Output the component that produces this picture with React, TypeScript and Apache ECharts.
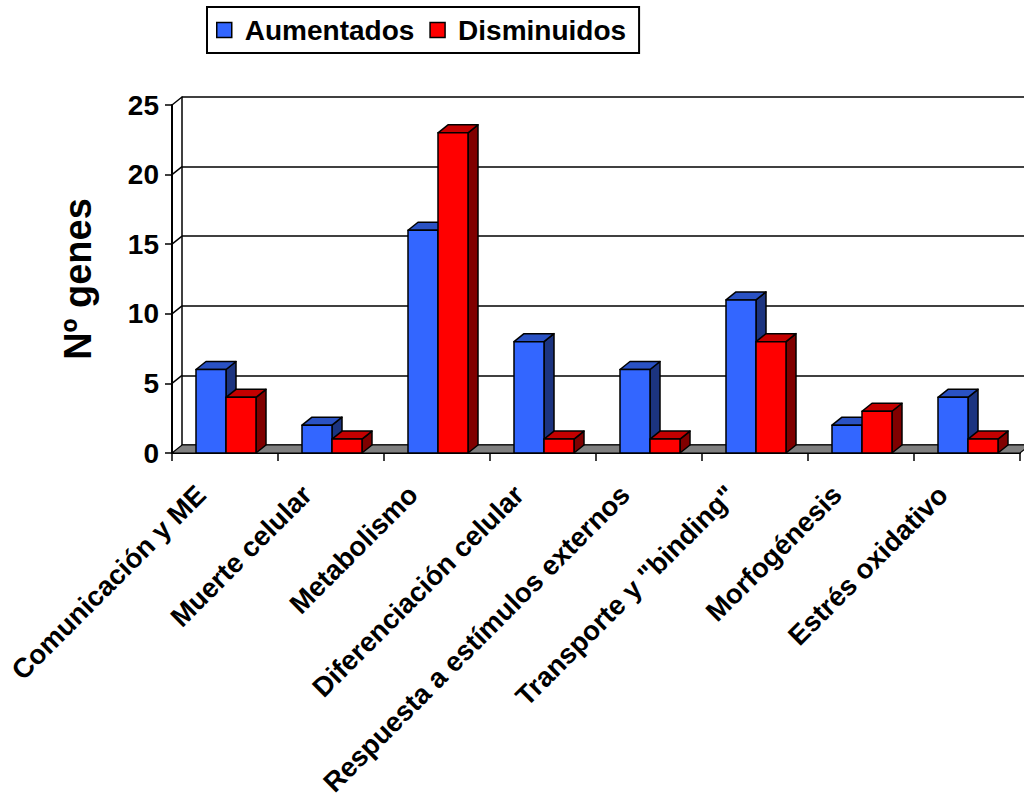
import React, { useEffect, useRef } from "react";
import * as echarts from "echarts";

const categories = [
  "Comunicación y ME",
  "Muerte celular",
  "Metabolismo",
  "Diferenciación celular",
  "Respuesta a estímulos externos",
  'Transporte y "binding"',
  "Morfogénesis",
  "Estrés oxidativo",
];
const aumentados = [6, 2, 16, 8, 6, 11, 2, 4];
const disminuidos = [4, 1, 23, 1, 1, 8, 3, 1];
const yTicks = [0, 5, 10, 15, 20, 25];
const seriesNames = ["Aumentados", "Disminuidos"];

const DX = 10;
const DY = 8;
const FONT = "'Liberation Sans', Arial, sans-serif";

const blue = { front: "#3366FF", top: "#2A52C4", side: "#1C3480" };
const red = { front: "#FF0000", top: "#C40000", side: "#800000" };

function barRenderer(side: number, colors: { front: string; top: string; side: string }) {
  return (params: any, api: any) => {
    const idx = api.value(0);
    const v = api.value(1);
    if (!v) return null;
    const base = api.coord([idx, 0]);
    const top = api.coord([idx, v]);
    const band = api.size([1, 0])[0];
    const bw = band * 0.283;
    const cx = base[0] + 1;
    const x0 = side < 0 ? cx - bw : cx;
    const x1 = x0 + bw;
    const y0 = base[1];
    const y1 = top[1];
    const stroke = { stroke: "#000", lineWidth: 1.5, lineJoin: "round" };
    return {
      type: "group",
      children: [
        {
          type: "polygon",
          shape: { points: [[x1, y1], [x1 + DX, y1 - DY], [x1 + DX, y0 - DY], [x1, y0]] },
          style: { fill: colors.side, ...stroke },
        },
        {
          type: "polygon",
          shape: { points: [[x0, y1], [x0 + DX, y1 - DY], [x1 + DX, y1 - DY], [x1, y1]] },
          style: { fill: colors.top, ...stroke },
        },
        {
          type: "rect",
          shape: { x: x0, y: y1, width: x1 - x0, height: y0 - y1 },
          style: { fill: colors.front, ...stroke },
        },
      ],
    };
  };
}

export default function App() {
  const ref = useRef<HTMLDivElement>(null);
  useEffect(() => {
    document.body.style.margin = "0";
    const chart = echarts.init(ref.current!, null, { renderer: "svg" });
    const option: any = {
      animation: false,
      backgroundColor: "#fff",
      legend: {
        data: seriesNames,
        left: 207,
        top: 7,
        orient: "horizontal",
        icon: "rect",
        itemWidth: 15,
        itemHeight: 15,
        itemGap: 15,
        borderColor: "#000",
        borderWidth: 2,
        padding: [9, 13, 9, 9],
        itemStyle: { borderColor: "#000", borderWidth: 1.5 },
        textStyle: { fontFamily: FONT, fontWeight: "bold", fontSize: 28, color: "#000", padding: [0, 0, 0, 8] },
      },
      grid: [
        { left: 172, right: 4, top: 105, bottom: 357, containLabel: false, outerBoundsMode: "none" },
        { left: 182, right: -6, top: 97, bottom: 365, containLabel: false, outerBoundsMode: "none" },
      ],
      xAxis: [
        {
          type: "category",
          gridIndex: 0,
          data: categories,
          axisLine: { show: true, lineStyle: { color: "#000", width: 2 } },
          axisTick: { show: true, length: 8, lineStyle: { color: "#000", width: 1.5 } },
          axisLabel: {
            interval: 0,
            rotate: 45,
            margin: 13,
            padding: [0, 34, 0, 0],
            fontFamily: FONT,
            fontWeight: "bold",
            fontSize: 27.5,
            color: "#000",
          },
          splitLine: { show: false },
        },
        { type: "category", gridIndex: 1, data: categories, show: false },
      ],
      yAxis: [
        {
          type: "value",
          gridIndex: 0,
          min: 0,
          max: 25,
          interval: 5,
          name: "Nº genes",
          nameLocation: "middle",
          nameRotate: 90,
          nameGap: 75,
          nameTextStyle: { fontFamily: FONT, fontWeight: "bold", fontSize: 38, color: "#000" },
          axisLine: { show: true, lineStyle: { color: "#000", width: 2 } },
          axisTick: { show: true, length: 7, lineStyle: { color: "#000", width: 1.5 } },
          axisLabel: { margin: 13, fontFamily: FONT, fontWeight: "bold", fontSize: 28, color: "#000" },
          splitLine: { show: false },
        },
        {
          type: "value",
          gridIndex: 1,
          min: 0,
          max: 25,
          interval: 5,
          axisLine: { show: true, lineStyle: { color: "#000", width: 1.5 } },
          axisTick: { show: false },
          axisLabel: { show: false },
          splitLine: { show: true, lineStyle: { color: "#000", width: 1.5 } },
        },
      ],
      series: [
        {
          type: "custom",
          name: "walls",
          xAxisIndex: 0,
          yAxisIndex: 0,
          z: 1,
          silent: true,
          data: yTicks.map((t) => [0, t]),
          renderItem: (params: any, api: any) => {
            const cs = params.coordSys;
            const v = api.value(1);
            const y = api.coord([0, v])[1];
            const x = cs.x;
            if (v === 0) {
              return {
                type: "polygon",
                shape: {
                  points: [[x, y], [x + DX, y - DY], [x + cs.width + DX, y - DY], [x + cs.width, y]],
                },
                style: { fill: "#808080", stroke: "#000", lineWidth: 1.2 },
              };
            }
            return {
              type: "line",
              shape: { x1: x, y1: y, x2: x + DX, y2: y - DY },
              style: { stroke: "#000", lineWidth: 1.5 },
            };
          },
        },
        {
          type: "custom",
          name: seriesNames[0],
          xAxisIndex: 0,
          yAxisIndex: 0,
          z: 3,
          itemStyle: { color: blue.front },
          data: aumentados.map((v, i) => [i, v]),
          renderItem: barRenderer(-1, blue),
        },
        {
          type: "custom",
          name: seriesNames[1],
          xAxisIndex: 0,
          yAxisIndex: 0,
          z: 4,
          itemStyle: { color: red.front },
          data: disminuidos.map((v, i) => [i, v]),
          renderItem: barRenderer(1, red),
        },
      ],
    };
    chart.setOption(option);
    return () => chart.dispose();
  }, []);
  return <div ref={ref} style={{ width: 1024, height: 810 }} />;
}
